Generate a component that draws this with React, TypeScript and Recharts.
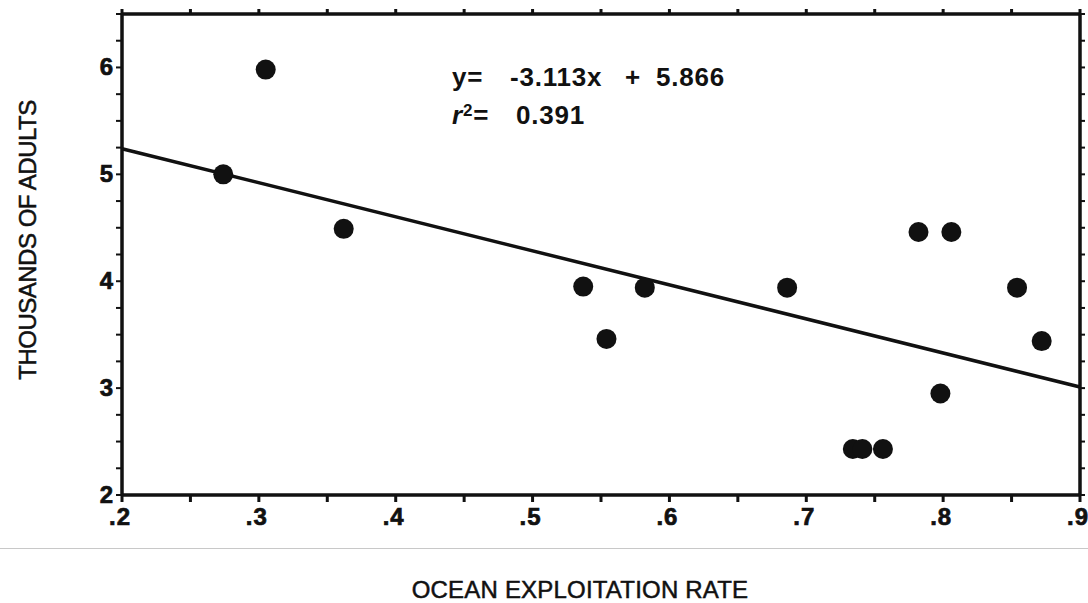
import React from "react";
import { ScatterChart, Scatter, XAxis, YAxis, ReferenceLine } from "recharts";

const xValues = [0.274, 0.305, 0.362, 0.537, 0.554, 0.582, 0.686, 0.734, 0.741, 0.756, 0.782, 0.798, 0.806, 0.854, 0.872];
const yValues = [5.0, 5.98, 4.49, 3.95, 3.46, 3.94, 3.94, 2.43, 2.43, 2.43, 4.46, 2.95, 4.46, 3.94, 3.44];

const fitX = [0.2, 0.9];
const fitY = [5.24, 3.01];

const xTicks = [0.2, 0.25, 0.3, 0.35, 0.4, 0.45, 0.5, 0.55, 0.6, 0.65, 0.7, 0.75, 0.8, 0.85, 0.9];
const xTickLabels = [".2", "", ".3", "", ".4", "", ".5", "", ".6", "", ".7", "", ".8", "", ".9"];
const yTicks = [2, 2.25, 2.5, 2.75, 3, 3.25, 3.5, 3.75, 4, 4.25, 4.5, 4.75, 5, 5.25, 5.5, 5.75, 6, 6.25, 6.5];
const yTickLabels = ["2", "", "", "", "3", "", "", "", "4", "", "", "", "5", "", "", "", "6", "", ""];

const xDomain = [0.2, 0.9];
const yDomain = [2, 6.5];

const points = xValues.map((x, i) => ({ x, y: yValues[i] }));
const fitSegment = fitX.map((x, i) => ({ x, y: fitY[i] }));

const font = "'Liberation Sans', Arial, Helvetica, sans-serif";
const ink = "#111";

const Dot = (props: any) => <circle cx={props.cx} cy={props.cy} r={10} fill={ink} />;
const NoDot = () => <g />;

const labelFor = (ticks: number[], labels: string[], v: number) => {
  const i = ticks.findIndex((t) => Math.abs(t - v) < 1e-6);
  return i >= 0 ? labels[i] : "";
};

const XTick = (props: any) => {
  const { x, y, payload } = props;
  const s = labelFor(xTicks, xTickLabels, payload.value);
  if (!s) return <g />;
  return (
    <text x={x - 2} y={y + 21} textAnchor="middle" fill={ink} stroke={ink} strokeWidth={0.7} fontFamily={font} fontSize={24} fontWeight={700} letterSpacing={1}>
      {s}
    </text>
  );
};

const YTick = (props: any) => {
  const { y, payload } = props;
  const s = labelFor(yTicks, yTickLabels, payload.value);
  if (!s) return <g />;
  return (
    <text x={113} y={y + 8} textAnchor="end" fill={ink} stroke={ink} strokeWidth={0.7} fontFamily={font} fontSize={24} fontWeight={700}>
      {s}
    </text>
  );
};

const EmptyTick = () => <g />;

const tokStyle: React.CSSProperties = {
  position: "absolute",
  fontFamily: font,
  fontSize: 26,
  fontWeight: 700,
  color: ink,
  whiteSpace: "pre",
  lineHeight: "26px",
  letterSpacing: 0.8,
};

const axisTitle: React.CSSProperties = {
  position: "absolute",
  whiteSpace: "nowrap",
  fontFamily: font,
  fontSize: 24,
  lineHeight: "24px",
  color: ink,
  WebkitTextStroke: "0.5px #111",
};

export default function App() {
  return (
    <div style={{ position: "absolute", left: 0, top: 0, width: 1088, height: 603, background: "#fff", overflow: "hidden" }}>
      <ScatterChart width={1088} height={603} margin={{ top: 13, right: 7, bottom: 0, left: 0 }}>
        <XAxis
          xAxisId="bottom"
          type="number"
          dataKey="x"
          domain={xDomain}
          ticks={xTicks}
          interval={0}
          height={108}
          tickSize={7}
          stroke={ink}
          strokeWidth={3}
          axisLine={{ stroke: ink, strokeWidth: 3 }}
          tickLine={{ stroke: ink, strokeWidth: 3 }}
          tick={XTick}
          allowDataOverflow
        />
        <XAxis
          xAxisId="top"
          orientation="top"
          type="number"
          dataKey="x"
          domain={xDomain}
          ticks={xTicks}
          interval={0}
          height={1}
          tickSize={5}
          stroke={ink}
          strokeWidth={3}
          axisLine={{ stroke: ink, strokeWidth: 3 }}
          tickLine={{ stroke: ink, strokeWidth: 3 }}
          tick={EmptyTick}
          allowDataOverflow
        />
        <YAxis
          yAxisId="left"
          type="number"
          dataKey="y"
          domain={yDomain}
          ticks={yTicks}
          interval={0}
          width={122}
          tickSize={6}
          stroke={ink}
          strokeWidth={3}
          axisLine={{ stroke: ink, strokeWidth: 3 }}
          tickLine={{ stroke: ink, strokeWidth: 2 }}
          tick={YTick}
          allowDataOverflow
        />
        <YAxis
          yAxisId="right"
          orientation="right"
          type="number"
          dataKey="y"
          domain={yDomain}
          ticks={yTicks}
          interval={0}
          width={1}
          tickSize={5}
          stroke={ink}
          strokeWidth={3}
          axisLine={{ stroke: ink, strokeWidth: 3 }}
          tickLine={{ stroke: ink, strokeWidth: 2 }}
          tick={EmptyTick}
          allowDataOverflow
        />
        <ReferenceLine xAxisId="bottom" yAxisId="left" x={xDomain[0]} stroke={ink} strokeWidth={3} ifOverflow="visible" />
        <ReferenceLine xAxisId="bottom" yAxisId="left" x={xDomain[1]} stroke={ink} strokeWidth={3} ifOverflow="visible" />
        <ReferenceLine xAxisId="bottom" yAxisId="left" y={yDomain[0]} stroke={ink} strokeWidth={3} ifOverflow="visible" />
        <ReferenceLine xAxisId="bottom" yAxisId="left" y={yDomain[1]} stroke={ink} strokeWidth={3} ifOverflow="visible" />
        <ReferenceLine
          xAxisId="bottom"
          yAxisId="left"
          segment={fitSegment}
          stroke={ink}
          strokeWidth={3.5}
          ifOverflow="visible"
        />
        <Scatter
          xAxisId="top"
          yAxisId="right"
          data={fitSegment}
          shape={NoDot}
          isAnimationActive={false}
        />
        <Scatter
          xAxisId="bottom"
          yAxisId="left"
          data={points}
          shape={Dot}
          isAnimationActive={false}
        />
      </ScatterChart>

      <div style={{ position: "absolute", left: 0, top: 548, width: 1088, height: 0, borderTop: "1px solid #c8c8c8" }} />

      <div style={{ ...axisTitle, left: 28, top: 240, transform: "translate(-50%, -50%) rotate(-90deg)", letterSpacing: -0.5 }}>
        THOUSANDS OF ADULTS
      </div>

      <div style={{ ...axisTitle, left: 580, top: 590, transform: "translate(-50%, -50%)", letterSpacing: 0.2 }}>
        OCEAN EXPLOITATION RATE
      </div>

      <div style={{ ...tokStyle, left: 452, top: 64 }}>y=</div>
      <div style={{ ...tokStyle, left: 510, top: 64 }}>-3.113x</div>
      <div style={{ ...tokStyle, left: 625, top: 64 }}>+</div>
      <div style={{ ...tokStyle, left: 656, top: 64 }}>5.866</div>

      <div style={{ ...tokStyle, left: 452, top: 102 }}>
        <span style={{ fontStyle: "italic" }}>r</span>
        <span style={{ fontSize: 17, position: "relative", top: -8 }}>2</span>
        <span>=</span>
      </div>
      <div style={{ ...tokStyle, left: 516, top: 102 }}>0.391</div>
    </div>
  );
}
